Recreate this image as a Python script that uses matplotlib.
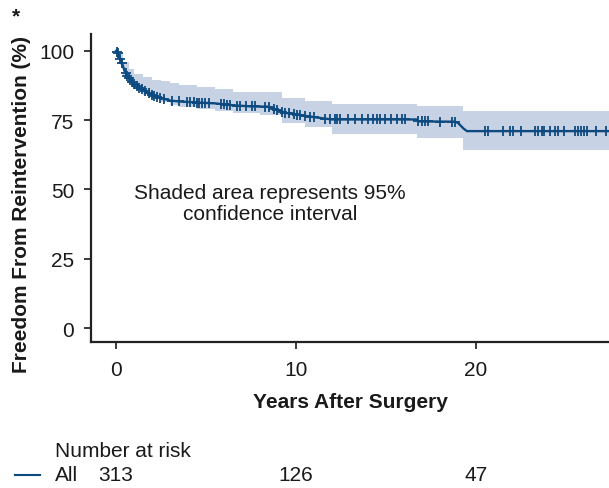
import numpy as np
import matplotlib
matplotlib.use("Agg")
import matplotlib.pyplot as plt
from matplotlib.transforms import blended_transform_factory

plt.rcParams['font.family'] = ['Liberation Sans', 'DejaVu Sans']

# Kaplan-Meier estimate (years, %)
km_time = [0, 0.1, 0.2, 0.3, 0.45, 0.6, 0.8, 1.0, 1.3, 1.6, 2.0, 2.5, 3.0, 3.5,
           4.5, 5.5, 6.5, 7.5, 8.5, 9.0, 9.5, 10.0, 10.5, 11.5, 12.0, 16.7,
           16.8, 18.8, 19.0, 19.3, 19.5, 27.4]
km_surv = [100, 99, 97.5, 96, 93, 91, 89.5, 88, 86.5, 85.5, 84, 83, 82, 81.7,
           81.3, 81, 80.3, 79.9, 79.8, 78.5, 77.5, 77, 76.5, 75.6, 75.2, 75.2,
           74.5, 74.4, 74, 72, 71, 71]

# 95% confidence band (step)
ci_time = [0, 0.2, 0.4, 0.7, 1.0, 1.5, 2.0, 2.5, 3.0, 3.5, 4.5, 5.5, 6.5,
           8.0, 9.2, 10.5, 12.0, 16.7, 19.3, 27.4]
ci_upper = [100, 99, 96, 93.5, 91.5, 90.5, 89.5, 89, 88.5, 87.8, 86.8, 86,
            85.2, 85, 83, 81.8, 80.6, 79.9, 78.3, 78.3]
ci_lower = [99, 95, 91, 88, 86, 84, 82.5, 81.5, 80.5, 79.8, 79, 78.3, 77.6,
            76.8, 74, 72.5, 69.8, 68.6, 64.3, 64.3]

# censored observations (years)
censor_time = [0.05, 0.08, 0.24, 0.33, 0.52, 0.61, 0.7, 0.89, 0.98, 1.17, 1.26,
               1.44, 1.63, 1.81, 2.0, 2.09, 2.28, 2.46, 2.65, 3.1, 3.48, 3.94,
               4.13, 4.31, 4.5, 4.59, 4.78, 4.96, 5.15, 5.8, 5.98, 6.17, 6.35,
               6.72, 6.91, 7.19, 7.56, 7.74, 8.3, 8.48, 8.76, 8.94, 9.22, 9.41,
               9.59, 9.87, 10.06, 10.24, 10.52, 10.8, 10.98, 11.63, 11.91,
               12.17, 12.26, 12.46, 12.9, 13.28, 13.65, 14.02, 14.3, 14.48,
               14.67, 14.94, 15.3, 15.6, 15.87, 16.06, 16.8, 16.98, 17.17,
               17.35, 18.0, 18.65, 18.83, 20.5, 20.7, 21.5, 21.9, 22.07, 22.5,
               23.28, 23.46, 23.65, 23.8, 24.1, 24.4, 24.57, 24.9, 25.5, 25.65,
               25.83, 26.0, 26.2, 26.7, 27.26]

x_ticks = [0, 10, 20]
y_ticks = [0, 25, 50, 75, 100]
risk_times = [0, 10, 20]
risk_counts = [313, 126, 47]

line_color = '#0d4a7f'
band_color = '#c8d2e5'
text_color = '#1a1a1a'
fs = 15

fig = plt.figure(figsize=(6.09, 4.89), dpi=100)
ax = fig.add_axes([91/609, 1 - 343/489, 1 - 91/609, (343 - 35)/489])

ax.fill_between(ci_time, ci_lower, ci_upper, step='post', color=band_color,
                linewidth=0)
ax.plot(km_time, km_surv, color=line_color, linewidth=1.7)
censor_surv = np.interp(censor_time, km_time, km_surv)
ax.plot(censor_time, censor_surv, linestyle='none', marker='+',
        markersize=7, markeredgewidth=1.3, color=line_color)

ax.set_xlim(-1.4, 27.4)
ax.set_ylim(-5, 106)
ax.set_xticks(x_ticks)
ax.set_yticks(y_ticks)
ax.tick_params(labelsize=fs, length=5, width=1.2, direction='out',
               colors=text_color)
ax.tick_params(axis='y', pad=7)
ax.tick_params(axis='x', pad=8)
for s in ['top', 'right']:
    ax.spines[s].set_visible(False)
for s in ['left', 'bottom']:
    ax.spines[s].set_linewidth(1.6)
    ax.spines[s].set_color('#222222')

ax.set_xlabel('Years After Surgery', fontsize=fs, fontweight='bold',
              labelpad=9, color=text_color)
fig.text(22/609, 1 - 205/489, 'Freedom From Reintervention (%)', rotation=90,
         ha='center', va='center', fontsize=fs, fontweight='bold',
         color=text_color)
fig.text(16/609, 1 - 17/489, '*', ha='center', va='center', fontsize=fs,
         fontweight='bold', color=text_color)

ax.text(8.55, 45, 'Shaded area represents 95%\nconfidence interval',
        ha='center', va='center', fontsize=fs, linespacing=1.15,
        color=text_color)

# Number at risk table
fig.text(55/609, 1 - 452/489, 'Number at risk', ha='left', va='center',
         fontsize=fs, color=text_color)
yrow = 1 - 476/489
fig.add_artist(plt.Line2D([15/609, 40/609], [yrow, yrow], color=line_color,
                          linewidth=1.5))
fig.text(55/609, yrow, 'All', ha='left', va='center', fontsize=fs,
         color=text_color)
trans = blended_transform_factory(ax.transData, fig.transFigure)
for t, n in zip(risk_times, risk_counts):
    fig.text(t, yrow, str(n), ha='center', va='center', fontsize=fs,
             transform=trans, color=text_color)

fig.savefig('out.png', dpi=100)
